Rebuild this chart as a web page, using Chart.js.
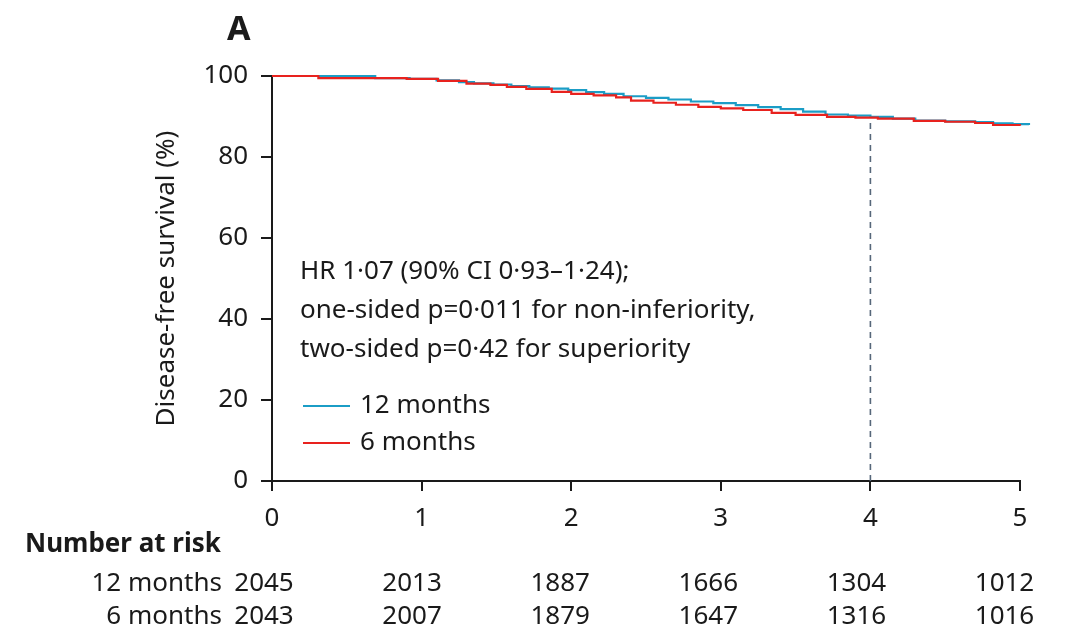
<!DOCTYPE html>
<html lang="en">
<head>
<meta charset="UTF-8">
<title>Disease-free survival</title>
<script src="https://cdn.jsdelivr.net/npm/chart.js"></script>
<style>
    body { margin: 0; background: #ffffff; }
    #wrap { width: 1066px; height: 639px; position: relative; }
</style>
</head>
<body>
<div id="wrap"><canvas id="dfsChart"></canvas></div>
<script>
// Kaplan-Meier steps (years, %)
const years12 = [0, 0.69, 0.92, 1.1, 1.25, 1.35, 1.48, 1.6, 1.72, 1.85, 1.98, 2.1, 2.22, 2.35, 2.5, 2.65, 2.8, 2.95, 3.1, 3.25, 3.4, 3.55, 3.7, 3.85, 4.0, 4.15, 4.3, 4.5, 4.7, 4.82, 4.95, 5.06];
const dfs12   = [100, 99.5, 99.3, 98.9, 98.5, 98.2, 97.9, 97.5, 97.2, 96.9, 96.5, 96.0, 95.6, 95.0, 94.6, 94.2, 93.7, 93.3, 92.8, 92.3, 91.8, 91.2, 90.5, 90.2, 89.9, 89.5, 89.0, 88.8, 88.6, 88.3, 88.1, 87.9];

const years6 = [0, 0.31, 0.9, 1.11, 1.3, 1.46, 1.57, 1.7, 1.87, 2.0, 2.15, 2.3, 2.4, 2.55, 2.7, 2.85, 3.0, 3.15, 3.34, 3.5, 3.71, 3.9, 4.05, 4.29, 4.5, 4.7, 4.82, 5.0, 5.06];
const dfs6   = [100, 99.5, 99.3, 98.8, 98.1, 97.8, 97.3, 96.8, 96.1, 95.6, 95.2, 94.7, 93.9, 93.4, 92.9, 92.4, 92.0, 91.6, 90.9, 90.4, 89.9, 89.7, 89.5, 88.9, 88.7, 88.4, 87.9, 87.7, 87.4];

// dashed marker at 4 years
const markerYear = 4;
const markerTop = 89.8;

// number at risk table
const riskYears = [0, 1, 2, 3, 4, 5];
const risk12 = [2045, 2013, 1887, 1666, 1304, 1012];
const risk6  = [2043, 2007, 1879, 1647, 1316, 1016];

const groupNames = ['12 months', '6 months'];
const statLines = [
    'HR 1·07 (90% CI 0·93–1·24);',
    'one-sided p=0·011 for non-inferiority,',
    'two-sided p=0·42 for superiority'
];

const INK = '#1a1a1a';
const BLUE = '#1b9dc6';
const RED = '#e8221e';
const FONT = '"Noto Sans", sans-serif';

function toPoints(xs, ys) {
    return xs.map((x, i) => ({ x: x, y: ys[i] }));
}

// draws the panel letter, stats text, legend and number-at-risk table
const extrasPlugin = {
    id: 'extras',
    afterDraw(chart) {
        const ctx = chart.ctx;
        const x = chart.scales.x;
        ctx.save();
        ctx.fillStyle = INK;
        ctx.textBaseline = 'middle';

        ctx.font = 'bold 34px ' + FONT;
        ctx.textAlign = 'left';
        ctx.fillText('A', 227, 30);

        ctx.font = '26px ' + FONT;
        statLines.forEach((line, i) => {
            ctx.fillText(line, 300, 272 + i * 39);
        });

        // legend
        const legendCols = [BLUE, RED];
        groupNames.forEach((name, i) => {
            const y = 406 + i * 37;
            ctx.strokeStyle = legendCols[i];
            ctx.lineWidth = 2;
            ctx.beginPath();
            ctx.moveTo(303, y);
            ctx.lineTo(350, y);
            ctx.stroke();
            ctx.fillStyle = INK;
            ctx.fillText(name, 360, y);
        });

        // number at risk
        ctx.font = 'bold 26px ' + FONT;
        ctx.textAlign = 'left';
        ctx.fillText('Number at risk', 25, 545);

        ctx.font = '26px ' + FONT;
        const rows = [risk12, risk6];
        rows.forEach((row, r) => {
            const y = 584 + r * 33;
            ctx.textAlign = 'right';
            ctx.fillText(groupNames[r], 222, y);
            ctx.textAlign = 'center';
            row.forEach((n, i) => {
                ctx.fillText(String(n), x.getPixelForValue(riskYears[i]) - 8 - i * 1.5, y);
            });
        });
        ctx.restore();
    }
};

new Chart(document.getElementById('dfsChart'), {
    type: 'line',
    data: {
        datasets: [
            {
                label: groupNames[0],
                data: toPoints(years12, dfs12),
                borderColor: BLUE,
                borderWidth: 2.2,
                stepped: true,
                pointRadius: 0,
                clip: false,
                order: 2
            },
            {
                label: groupNames[1],
                data: toPoints(years6, dfs6),
                borderColor: RED,
                borderWidth: 2.2,
                stepped: true,
                pointRadius: 0,
                clip: false,
                order: 1
            },
            {
                label: 'marker',
                data: [{ x: markerYear, y: 0 }, { x: markerYear, y: markerTop }],
                borderColor: '#56677a',
                borderWidth: 1.6,
                borderDash: [6, 5],
                pointRadius: 0,
                order: 3
            }
        ]
    },
    options: {
        responsive: true,
        maintainAspectRatio: false,
        animation: false,
        layout: { padding: { left: 0, top: 76, right: 46, bottom: 98 } },
        plugins: {
            legend: { display: false },
            tooltip: { enabled: false }
        },
        scales: {
            x: {
                type: 'linear',
                min: 0,
                max: 5,
                afterFit(scale) { scale.height = 60; },
                ticks: { stepSize: 1, padding: 12, color: INK, font: { family: FONT, size: 26 } },
                grid: { drawOnChartArea: false, tickLength: 10, color: INK, lineWidth: 2 },
                border: { color: INK, width: 2 }
            },
            y: {
                min: 0,
                max: 100,
                afterFit(scale) { scale.width = 272; },
                ticks: { stepSize: 20, padding: 13, color: INK, font: { family: FONT, size: 26 } },
                grid: { drawOnChartArea: false, tickLength: 11, color: INK, lineWidth: 2 },
                border: { color: INK, width: 2 },
                title: {
                    display: true,
                    text: 'Disease-free survival (%)',
                    color: INK,
                    font: { family: FONT, size: 26 },
                    padding: { top: 151, bottom: 0 }
                }
            }
        }
    },
    plugins: [extrasPlugin]
});
</script>
</body>
</html>
